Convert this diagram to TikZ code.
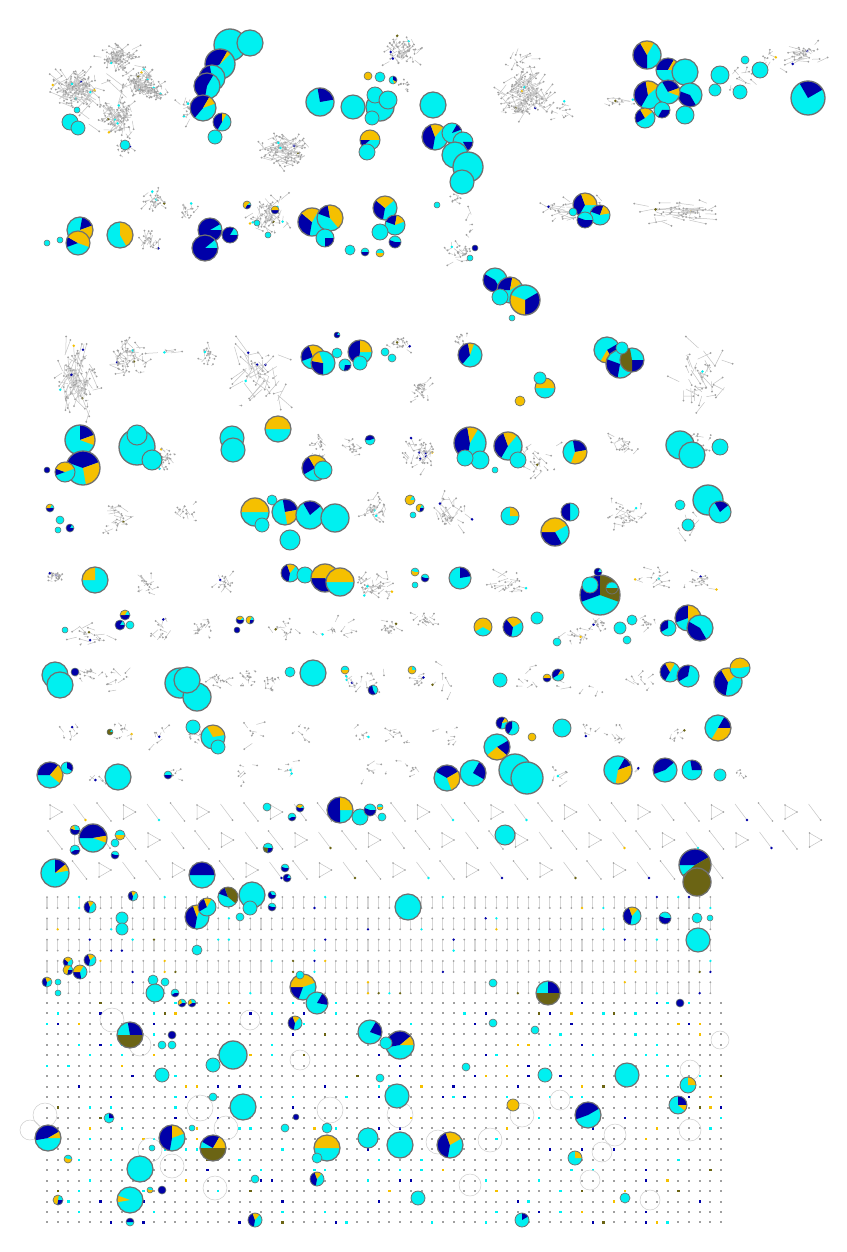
\documentclass[tikz,border=0pt]{standalone}
\usepackage{tikz}
\definecolor{cy}{HTML}{00F0F0}
\definecolor{bl}{HTML}{0000A8}
\definecolor{go}{HTML}{F5C000}
\definecolor{ol}{HTML}{6B6414}
\definecolor{pl}{HTML}{707070}
\definecolor{eg}{HTML}{C4C4C4}
\definecolor{dg}{HTML}{A0A0A0}
\tikzset{edge/.style={eg,line width=0.5pt},bar/.style={eg!70,line width=1.1pt},loopline/.style={eg!85,line width=0.5pt}}
\newcommand\randcol[2]{%
  \pgfmathtruncatemacro\rc{rnd*#1}%
  \def\dsz{#2}%
  \ifcase\rc \def\dcol{cy}\or\def\dcol{cy}\or\def\dcol{cy}\or\def\dcol{bl}\or\def\dcol{bl}\or\def\dcol{ol}\or\def\dcol{go}\else\def\dcol{dg}\def\dsz{1.0}\fi}
\newcommand\gnet[5]{%
  \foreach \k in {1,...,#5}{%
    \pgfmathsetmacro\xa{#1+0.22*#3*(rand+rand)}%
    \pgfmathsetmacro\ya{#2+0.22*#4*(rand+rand)}%
    \pgfmathsetmacro\xb{\xa+0.22*#3*rand}%
    \pgfmathsetmacro\yb{\ya+0.22*#4*rand}%
    \draw[edge] (\xa,\ya) -- (\xb,\yb);
    \randcol{120}{1.4}%
    \fill[\dcol] (\xb,\yb) circle (\dsz);
  }}
\newcommand\pie[7]{%
  \pgfmathsetmacro\pa{#4}%
  \pgfmathsetmacro\pb{#4+#5}%
  \pgfmathsetmacro\pc{#4+#5+#6}%
  \pgfmathsetmacro\pd{#4+#5+#6+#7}%
  \pgfmathsetmacro\lw{min(1.3,0.3+0.07*#3)}%
  \fill[cy] (#1,#2) circle (#3);
  \ifdim #5pt>0pt \fill[bl] (#1,#2) -- ++(\pa:#3) arc[start angle=\pa, end angle=\pb, radius=#3] -- cycle;\fi
  \ifdim #6pt>0pt \fill[go] (#1,#2) -- ++(\pb:#3) arc[start angle=\pb, end angle=\pc, radius=#3] -- cycle;\fi
  \ifdim #7pt>0pt \fill[ol] (#1,#2) -- ++(\pc:#3) arc[start angle=\pc, end angle=\pd, radius=#3] -- cycle;\fi
  \draw[pl, line width=\lw pt] (#1,#2) circle (#3);
}
\begin{document}
\begin{tikzpicture}[x=1pt,y=-1pt]
\useasboundingbox (0,0) rectangle (846,1252);
\fill[white] (0,0) rectangle (846,1252);
\pgfmathsetseed{7}
% ---------- gray networks ----------
\foreach \cx/\cy/\w/\h/\n in {
75/88/50/40/130,118/58/40/30/90,140/82/40/35/90,155/92/25/20/40,120/118/40/40/90,125/150/20/20/15,100/100/100/90/20,
190/110/25/35/22,285/150/55/35/100,403/50/35/30/65,405/85/15/12/10,525/95/60/55/130,520/60/40/40/15,560/110/30/20/12,
625/102/60/15/12,805/55/50/25/35,770/60/30/30/10,745/80/40/30/12,
155/200/25/25/28,150/240/25/40/22,190/210/25/25/15,270/215/40/40/60,460/252/30/25/26,455/198/25/15/8,470/225/15/40/6,
570/210/80/25/32,680/212/90/25/50,
77/377/40/80/100,127/358/45/40/55,207/355/20/30/20,165/350/60/10/5,262/375/70/80/45,400/345/25/15/20,420/390/25/25/26,
460/340/20/15/12,700/375/60/70/40,
165/458/25/25/26,320/445/25/30/18,420/455/40/40/40,350/448/25/25/15,540/460/40/40/22,620/445/40/25/18,700/440/30/25/14,
120/520/50/35/22,185/512/25/25/15,375/510/30/30/32,450/510/40/40/32,625/515/50/30/28,690/520/30/40/14,
55/577/20/15/22,145/585/30/30/16,222/585/25/30/16,375/585/45/30/38,510/582/60/30/22,655/578/40/20/16,700/580/40/20/16,
90/637/50/30/18,162/632/35/30/12,200/627/30/25/16,287/630/40/30/12,327/632/30/15/5,345/628/30/30/7,390/627/30/20/16,
425/622/25/20/16,575/635/40/30/14,600/625/20/20/14,645/625/30/20/10,
87/675/30/20/14,120/680/35/30/10,220/678/30/20/14,247/678/20/20/16,270/683/25/25/14,350/680/30/40/9,375/680/30/30/7,
420/680/30/25/9,445/680/30/40/7,525/680/30/30/7,580/690/60/25/7,640/680/40/25/9,
65/733/30/25/7,120/733/30/25/9,160/735/25/30/7,197/735/25/30/7,255/735/40/30/7,300/733/30/20/7,360/735/30/20/7,
400/735/30/20/9,450/735/30/20/7,590/733/40/20/7,620/735/30/25/7,680/735/30/20/7,
100/780/30/30/5,175/775/20/20/7,240/775/30/25/7,290/770/30/30/7,375/770/30/25/7,410/770/25/25/7,560/778/40/25/7,
630/773/20/20/7,740/772/20/20/5}{\gnet{\cx}{\cy}{\w}{\h}{\n}}
% ---------- triangles and pairs rows ----------
\foreach \ty/\nmax/\off in {812/31/0,840/31/1,870/27/2}{
  \foreach \i in {0,...,\nmax}{
    \pgfmathsetmacro\tx{55+24.5*\i}
    \pgfmathtruncatemacro\tm{mod(\i*5+\off,3)}
    \ifcase\tm
      \draw[edge] (\tx-5,\ty-7) -- (\tx+7,\ty) -- (\tx-5,\ty+7) -- cycle;
      \fill[dg] (\tx-5,\ty-7) circle (0.9) (\tx+7,\ty) circle (0.9) (\tx-5,\ty+7) circle (0.9);
    \or
      \draw[edge] (\tx-7,\ty-9) -- (\tx+7,\ty+9);
      \fill[dg] (\tx-7,\ty-9) circle (0.9) (\tx+7,\ty+9) circle (0.9);
    \or
      \draw[edge] (\tx-6,\ty-8) -- (\tx+6,\ty+8);
      \randcol{12}{1.3}\fill[\dcol] (\tx+6,\ty+8) circle (\dsz);
    \fi
  }}
% ---------- vertical pairs ----------
\foreach \i in {0,...,62}{
  \foreach \j in {0,...,4}{
    \pgfmathsetmacro\gx{47+10.7*\i}
    \pgfmathsetmacro\gy{897+21.3*\j}
    \draw[bar] (\gx,\gy) -- (\gx,\gy+11);
    \randcol{60}{1.3}\fill[\dcol] (\gx,\gy) circle (\dsz);
    \randcol{60}{1.3}\fill[\dcol] (\gx,\gy+11) circle (\dsz);
  }}
% ---------- isolated dots ----------
\foreach \i in {0,...,63}{
  \foreach \j in {0,...,21}{
    \pgfmathsetmacro\gx{47+10.7*\i}
    \pgfmathsetmacro\gy{1003+10.45*\j}
    \randcol{40}{1.2}\fill[\dcol] (\gx-\dsz,\gy-\dsz) rectangle (\gx+\dsz,\gy+\dsz);
  }}
% ---------- loops ----------
\foreach \lx/\ly/\lr in {112/1020/12,200/1108/13,226/1128/12,150/1150/12,172/1166/12,215/1188/12,400/1115/13,438/1142/12,
615/1135/11,602/1152/10,690/1070/10,690/1130/11,650/1200/10,45/1115/12,330/1110/13,490/1140/12,522/1115/12,470/1185/11,
140/1045/11,300/1060/10,250/1020/10,560/1100/10,590/1180/10,30/1130/10,720/1040/9}{\draw[loopline] (\lx,\ly) circle (\lr);}
% ---------- pies ----------
\foreach \px/\py/\pr/\ps/\pB/\pG/\pO in {
70/122/8/0/0/0/0,78/128/7/0/0/0/0,77/110/3/0/0/0/0,125/145/5/0/0/0/0,
230/45/16/0/0/0/0,250/43/13/0/0/0/0,220/64/15/150/150/15/0,212/78/13/120/140/0/0,207/86/13/100/200/0/0,203/108/13/130/170/40/0,
222/122/9/120/150/30/0,215/137/7/0/0/0/0,
320/102/14/-100/90/0/0,353/107/12/0/0/0/0,380/107/14/0/0/0/0,375/95/8/0/0/0/0,388/100/9/0/0/0/0,380/77/5/0/0/0/0,
368/76/4/0/0/360/0,393/80/4/-90/120/40/0,372/118/7/0/0/0/0,370/140/10/-220/40/180/0,367/152/8/0/0/0/0,
433/105/13/0/0/0/0,435/137/13/100/150/60/0,452/133/10/-60/40/0/0,463/142/10/0/60/0/0,455/155/13/0/0/0/0,468/167/15/0/0/0/0,
462/182/12/0/0/0/0,
647/55/14/90/150/60/0,668/70/12/180/120/60/0,685/72/13/0/0/0/0,690/95/12/60/140/0/0,648/95/14/120/140/60/0,
668/92/12/240/100/40/0,685/115/9/0/0/0/0,645/118/10/150/90/80/0,662/110/8/0/120/0/0,720/75/9/0/0/0/0,715/90/6/0/0/0/0,
740/92/7/0/0/0/0,760/70/8/0/0/0/0,745/60/4/0/0/0/0,808/98/17/-120/90/0/0,
80/230/13/-80/60/80/0,78/243/12/-200/50/170/0,60/240/3/0/0/0/0,47/243/3/0/0/0/0,120/235/13/-90/0/150/0,
210/230/12/0/330/0/0,205/248/13/0/320/0/0,230/235/8/0/300/0/0,247/205/4/0/120/200/0,275/210/4/0/180/180/0,
257/223/3/0/0/0/0,268/235/3/0/0/0/0,
312/222/14/100/120/80/0,330/218/13/200/60/150/0,325/238/9/0/90/0/0,385/208/12/100/120/100/0,395/225/10/200/80/60/0,
380/232/8/0/0/0/0,395/242/6/0/200/0/0,350/250/5/0/0/0/0,365/252/4/0/180/0/0,380/253/4/0/0/180/0,437/205/3/0/0/0/0,
475/248/3/0/360/0/0,470/258/3/0/0/0/0,495/280/12/60/150/0/0,510/290/13/180/100/50/0,525/300/15/-30/120/110/0,
500/297/8/0/0/0/0,512/318/3/0/0/0/0,585/205/12/120/130/110/0,600/215/10/200/90/60/0,585/220/8/0/200/0/0,573/212/4/0/0/0/0,
313/357/12/-200/90/200/0,323/363/12/90/100/60/0,337/335/3/0/300/0/0,337/353/5/0/0/0/0,345/365/6/0/100/0/0,
360/352/12/100/170/90/0,360/363/7/0/0/0/0,385/352/4/0/0/0/0,392/358/4/0/0/0/0,470/355/12/130/130/30/0,
545/388/10/180/0/180/0,540/378/6/0/0/0/0,520/401/5/0/0/360/0,607/350/13/-30/90/60/0,620/364/14/100/100/0/0,
632/360/12/0/90/0/170,622/348/6/0/0/0/0,
80/440/15/-90/70/40/0,83/468/17/200/140/100/0,65/472/10/160/40/140/0,47/470/3/0/360/0/0,137/447/18/0/0/0/0,
137/435/10/0/0/0/0,152/460/10/0/0/0/0,232/438/12/0/0/0/0,233/450/12/0/0/0/0,278/429/13/180/0/180/0,
315/468/13/150/90/120/0,323/470/9/0/0/0/0,370/440/5/180/160/0/0,470/443/16/100/160/40/0,480/460/9/0/0/0/0,
465/458/8/0/0/0/0,508/446/14/120/130/60/0,518/460/8/0/0/0/0,495/470/3/0/0/0/0,575/452/12/-100/90/120/0,
680/445/14/0/0/0/0,692/455/13/0/0/0/0,720/447/8/0/0/0/0,
50/508/4/0/180/120/0,60/520/4/0/0/0/0,70/528/4/0/300/0/0,58/530/3/0/0/0/0,255/512/14/180/0/180/0,
285/512/13/-100/90/90/0,310/515/14/-120/80/0/0,335/518/14/0/0/0/0,290/540/10/0/0/0/0,262/525/7/0/0/0/0,
272/500/5/0/0/0/0,410/500/5/0/0/300/0,420/508/4/0/100/200/0,413/515/3/0/0/0/0,510/516/9/-90/0/90/0,
555/532/14/60/120/150/0,570/512/9/90/180/0/0,708/500/15/0/0/0/0,720/512/11/-120/80/0/0,688/525/6/0/0/0/0,
680/505/5/0/0/0/0,
95/580/13/-180/0/90/0,290/573/9/100/150/60/0,305/575/8/0/0/0/0,325/578/14/60/120/150/0,340/582/14/180/0/180/0,
415/572/4/0/0/200/0,425/578/4/0/200/0/0,415/585/3/0/0/0/0,460/578/11/-90/80/0/0,600/595/20/-200/110/0/110,
590/585/8/0/0/0/0,612/588/6/0/0/0/180,598/572/4/0/300/0/0,
65/630/3/0/0/0/0,125/615/5/0/180/120/0,120/625/5/0/300/0/0,130/625/4/0/0/0/0,240/620/4/0/200/120/0,
250/620/4/0/100/200/0,237/630/3/0/360/0/0,483/627/9/150/0/240/0,513/627/10/100/130/100/0,537/618/6/0/0/0/0,
557/642/4/0/0/0/0,620/628/6/0/0/0/0,632/620/5/0/0/0/0,627/640/4/0/0/0/0,688/618/13/-200/110/170/0,
700/628/13/60/150/0/0,668/628/8/150/120/0/0,
55/675/13/0/0/0/0,60/685/13/0/0/0/0,75/672/4/0/360/0/0,180/683/15/0/0/0/0,197/697/14/0/0/0/0,187/680/13/0/0/0/0,
290/672/5/0/0/0/0,313/673/13/0/0/0/0,345/670/4/0/0/180/0,373/690/5/60/200/0/0,412/670/4/0/0/270/0,
500/680/7/0/0/0/0,547/678/4/0/180/180/0,558/675/6/150/150/40/0,670/672/10/120/120/60/0,688/676/11/150/130/0/0,
728/682/14/100/140/80/0,740/668/10/180/0/170/0,
110/732/3/0/0/0/300,193/727/7/0/0/0/0,213/737/12/-120/0/110/0,218/747/7/0/0/0/0,502/723/6/100/200/50/0,
512/728/7/120/150/0/0,497/747/13/-30/70/100/0,532/737/4/0/0/360/0,562/728/9/0/0/0/0,718/728/13/-60/60/120/0,
50/775/13/180/130/90/0,67/768/6/-90/120/0/0,118/777/13/0/0/0/0,168/775/4/0/180/0/0,447/778/13/-150/120/100/0,
473/773/13/-60/90/0/0,515/770/16/0/0/0/0,527/778/16/0/0/0/0,618/770/14/-60/40/120/0,665/770/12/-200/160/0/0,
692/770/10/-100/100/0/0,720/775/6/0/0/0/0,
340/810/13/90/180/90/0,360/817/8/0/0/0/0,370/810/6/0/200/0/0,380/807/3/0/0/180/0,382/817/4/0/0/0/0,
267/807/4/0/0/0/0,300/808/4/0/200/120/0,292/817/4/0/150/0/0,
93/838/14/180/170/30/0,75/830/5/0/200/60/0,75/850/5/0/150/0/0,115/843/4/0/0/0/0,120/835/5/0/0/180/0,
115/855/4/0/200/0/0,268/848/5/0/100/0/90,505/835/10/0/0/0/0,
55/873/14/-90/50/30/0,202/875/13/180/180/0/0,285/868/4/0/200/0/0,287/878/4/0/300/0/0,
695/865/16/180/150/0/170,697/882/14/0/0/0/360,
133/896/5/100/150/60/0,90/907/6/100/150/60/0,122/918/6/0/0/0/0,122/929/6/0/0/0/0,197/917/12/100/150/40/0,
207/907/9/150/100/50/0,197/950/5/0/0/0/0,228/897/10/200/50/0/150,252/895/13/0/0/0/0,250/908/7/0/0/0/0,
240/917/4/0/0/0/0,272/895/4/0/240/0/0,272/907/4/0/200/0/0,
68/962/5/100/120/100/0,90/960/6/100/150/70/0,68/970/5/0/100/200/0,80/972/7/80/100/120/0,47/982/5/100/150/80/0,
58/982/3/0/0/0/0,58/993/3/0/0/0/0,153/980/5/0/0/0/0,155/993/9/0/0/0/0,165/982/4/0/0/0/0,175/993/4/0/150/0/0,
182/1003/4/0/150/100/0,192/1003/4/0/150/100/0,303/987/13/110/70/160/0,317/1003/11/-60/70/0/0,300/975/4/0/0/0/0,
408/907/13/0/0/0/0,632/916/9/100/150/60/0,665/918/6/0/200/0/0,697/918/5/0/0/0/0,698/940/12/0/0/0/0,710/918/3/0/0/0/0,
548/993/12/-90/90/0/180,
130/1035/13/-100/100/0/180,172/1035/4/0/360/0/0,162/1045/4/0/0/0/0,172/1045/4/0/0/0/0,295/1023/7/100/150/60/0,
233/1055/14/0/0/0/0,213/1065/7/0/0/0/0,162/1075/7/0/0/0/0,243/1107/13/0/0/0/0,213/1097/4/0/0/0/0,
48/1138/13/170/160/30/0,68/1159/4/0/0/200/0,172/1138/13/100/170/70/0,192/1128/3/0/0/0/0,213/1148/13/-150/90/60/180,
140/1169/13/0/0/0/0,130/1200/13/170/0/30/0,162/1190/4/0/360/0/0,150/1190/3/0/0/200/0,130/1222/4/-180/180/0/0,
58/1200/5/0/100/180/0,327/1148/13/180/0/180/0,327/1128/5/0/0/0/0,317/1158/5/0/0/0/0,317/1179/7/100/150/60/0,
285/1128/4/0/0/0/0,296/1117/3/0/360/0/0,255/1220/7/100/150/60/0,255/1179/4/0/0/0/0,109/1118/5/-90/90/0/0,
152/1148/3/0/0/0/0,
370/1032/12/-60/80/0/0,400/1045/14/170/150/40/0,386/1043/6/0/0/0/0,397/1096/12/0/0/0/0,380/1078/4/0/0/0/0,
368/1138/10/0/0/0/0,400/1145/13/0/0/0/0,450/1145/13/100/150/80/0,418/1198/7/0/0/0/0,522/1220/7/-90/60/0/0,
545/1075/7/0/0/0/0,513/1105/6/0/0/360/0,588/1115/13/160/170/0/0,575/1158/7/-90/0/90/0,627/1075/12/0/0/0/0,
678/1105/9/-90/90/40/0,688/1085/8/-90/0/90/0,625/1198/5/0/0/0/0,680/1003/4/0/360/0/0,535/1030/4/0/0/0/0,
493/1023/4/0/0/0/0,493/983/4/0/0/0/0,466/1067/4/0/0/0/0}{\pie{\px}{\py}{\pr}{\ps}{\pB}{\pG}{\pO}}
\end{tikzpicture}
\end{document}
